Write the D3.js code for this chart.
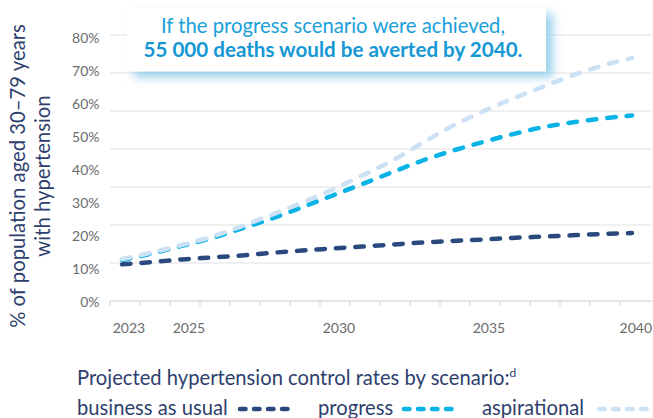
<!DOCTYPE html>
<html>
<head>
<meta charset="utf-8">
<script src="https://cdn.jsdelivr.net/npm/d3@7"></script>
<style>
  body { margin: 0; background: #fff; }
  text { font-family: Lato, "Noto Sans", sans-serif; }
</style>
</head>
<body>
<script>
const width = 653;
const height = 418;

const navy = "#2a4a7f";
const cyan = "#0ab3e6";
const pale = "#cde1f5";
const textNavy = "#2e3f6e";
const grey = "#6b6b6b";

// data, % of population
const years = [2023, 2024, 2025, 2026, 2027, 2028, 2029, 2030, 2031, 2032, 2033, 2034, 2035, 2036, 2037, 2038, 2039, 2040];
const bau = [11.1, 11.8, 12.6, 13.2, 13.8, 14.6, 15.3, 15.9, 16.5, 17.1, 17.7, 18.2, 18.6, 19.1, 19.5, 19.9, 20.3, 20.6];
const progress = [12.4, 14.4, 16.7, 19.1, 22.0, 25.0, 28.4, 31.9, 35.4, 39.0, 42.5, 45.5, 48.1, 50.5, 52.6, 54.1, 55.3, 56.2];
const aspirational = [12.7, 14.7, 17.0, 19.5, 22.7, 26.2, 29.8, 33.7, 38.0, 42.5, 47.8, 53.0, 57.3, 61.2, 64.8, 68.3, 71.3, 73.6];

const yTicks = [0, 10, 20, 30, 40, 50, 60, 70, 80];
const xLabels = [2023, 2025, 2030, 2035, 2040];

const x = d3.scaleLinear().domain([2023, 2040]).range([122, 632]);
const y = d3.scaleLinear().domain([0, 80]).range([301, 37]);

const svg = d3.select("body").append("svg")
    .attr("width", width)
    .attr("height", height);

const defs = svg.append("defs");
defs.append("filter")
    .attr("id", "glow")
    .attr("x", "-10%").attr("y", "-40%")
    .attr("width", "125%").attr("height", "190%")
  .append("feDropShadow")
    .attr("dx", 7).attr("dy", 6)
    .attr("stdDeviation", 5)
    .attr("flood-color", "#86c7ea")
    .attr("flood-opacity", 0.8);

// grid: 7 even bands between the axis and the top line
const gridTop = 80.6;
svg.append("g")
    .attr("stroke", "#e2e2e2")
    .attr("stroke-width", 1.2)
  .selectAll("line")
  .data(d3.range(1, 8))
  .join("line")
    .attr("x1", 110)
    .attr("x2", 652)
    .attr("y1", i => y(i * gridTop / 7))
    .attr("y2", i => y(i * gridTop / 7));

// x axis line + ticks
const axis = svg.append("g").attr("stroke", "#dcdcdc").attr("stroke-width", 1.3);
axis.append("line")
    .attr("x1", 110).attr("x2", 652)
    .attr("y1", y(0)).attr("y2", y(0));
axis.selectAll(".tick")
  .data(years)
  .join("line")
    .attr("x1", d => x(d) - 12).attr("x2", d => x(d) - 12)
    .attr("y1", y(0)).attr("y2", y(0) + 5);

svg.append("g")
    .attr("fill", grey)
    .attr("font-size", 14)
  .selectAll("text")
  .data(xLabels)
  .join("text")
    .attr("x", d => d === 2040 ? 652 : x(d) + 7)
    .attr("y", 333)
    .attr("text-anchor", d => d === 2040 ? "end" : "middle")
    .text(d => d);

svg.append("g")
    .attr("fill", grey)
    .attr("font-size", 14)
    .attr("text-anchor", "end")
  .selectAll("text")
  .data(yTicks)
  .join("text")
    .attr("x", 99.5)
    .attr("y", d => y(d) + 1)
    .attr("dy", "0.35em")
    .text(d => d + "%");

const title = svg.append("text")
    .attr("fill", textNavy)
    .attr("font-size", 20.3)
    .attr("text-anchor", "middle")
    .attr("transform", "translate(0,176) rotate(-90)");
title.append("tspan").attr("x", 0).attr("y", 24.5).text("% of population aged 30–79 years");
title.append("tspan").attr("x", 0).attr("y", 49.5).text("with hypertension");

// lines
const line = d3.line()
    .curve(d3.curveMonotoneX)
    .x((d, i) => x(years[i]))
    .y(d => y(d));

const series = [
  {name: "progress", values: progress, color: cyan},
  {name: "aspirational", values: aspirational, color: pale},
  {name: "business as usual", values: bau, color: navy}
];

svg.append("g")
    .attr("fill", "none")
    .attr("stroke-width", 4.5)
    .attr("stroke-linecap", "round")
    .attr("stroke-dasharray", "8.5 11")
  .selectAll("path")
  .data(series)
  .join("path")
    .attr("stroke", d => d.color)
    .attr("d", d => line(d.values));

// callout
const callout = svg.append("g");
callout.append("rect")
    .attr("x", 127).attr("y", 7.5)
    .attr("width", 419).attr("height", 64)
    .attr("fill", "#fff")
    .attr("filter", "url(#glow)");
callout.append("text")
    .attr("x", 333).attr("y", 32.5)
    .attr("text-anchor", "middle")
    .attr("fill", "#1a9fd9")
    .attr("font-size", 20.3)
    .text("If the progress scenario were achieved,");
callout.append("text")
    .attr("x", 333).attr("y", 57)
    .attr("text-anchor", "middle")
    .attr("fill", "#1597d4")
    .attr("font-size", 20.6)
    .attr("font-weight", "bold")
    .text("55 000 deaths would be averted by 2040.");

// legend
const legend = svg.append("g").attr("fill", textNavy).attr("font-size", 20.2);
const head = legend.append("text").attr("x", 77).attr("y", 385);
head.append("tspan").text("Projected hypertension control rates by scenario:");
head.append("tspan").attr("dy", -8).attr("font-size", 12).text("d");

const legendItems = [
  {label: "business as usual", tx: 77, lx: 240, color: navy},
  {label: "progress", tx: 318, lx: 404, color: cyan},
  {label: "aspirational", tx: 482, lx: 599, color: pale}
];
legend.selectAll(".lab")
  .data(legendItems)
  .join("text")
    .attr("x", d => d.tx)
    .attr("y", 415)
    .text(d => d.label);
legend.selectAll("line")
  .data(legendItems)
  .join("line")
    .attr("x1", d => d.lx).attr("x2", d => d.lx + 54)
    .attr("y1", 409).attr("y2", 409)
    .attr("stroke", d => d.color)
    .attr("stroke-width", 4.5)
    .attr("stroke-linecap", "round")
    .attr("stroke-dasharray", "5.5 8.5");
</script>
</body>
</html>
